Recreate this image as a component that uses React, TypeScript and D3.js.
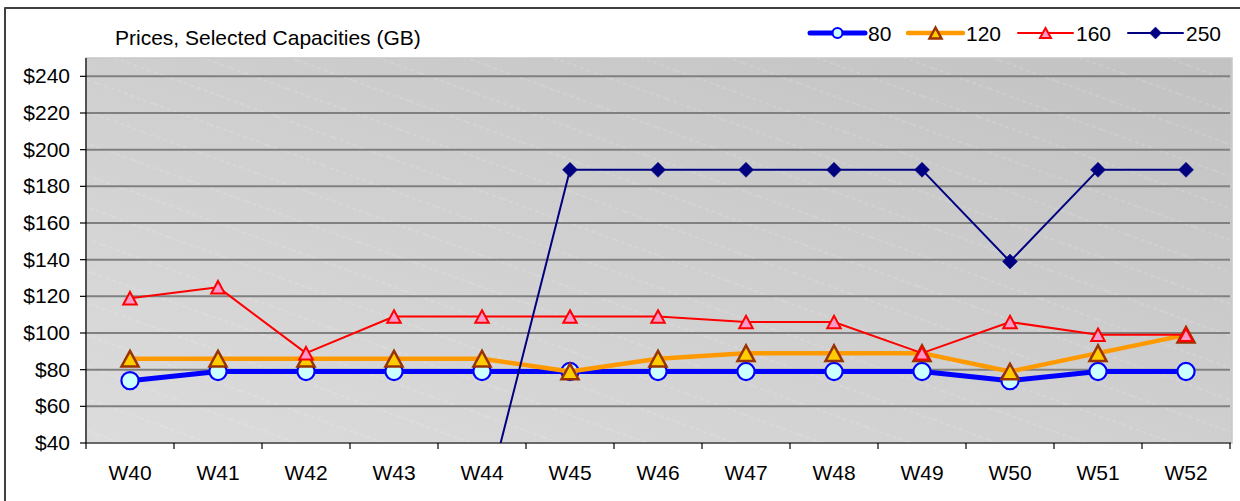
import React from 'react';
import * as d3 from 'd3';

// weekly prices for selected capacities (GB)
const weeks = ['W40', 'W41', 'W42', 'W43', 'W44', 'W45', 'W46', 'W47', 'W48', 'W49', 'W50', 'W51', 'W52'];
const price80 = [74, 79, 79, 79, 79, 79, 79, 79, 79, 79, 74, 79, 79];
const price120 = [86, 86, 86, 86, 86, 79, 86, 89, 89, 89, 79, 89, 99];
const price160 = [119, 125, 89, 109, 109, 109, 109, 106, 106, 89, 106, 99, 99];
const price250 = [0, 0, 0, 0, 0, 189, 189, 189, 189, 189, 139, 189, 189];
const yTicks = [40, 60, 80, 100, 120, 140, 160, 180, 200, 220, 240];
const capacities = ['80', '120', '160', '250'];

const W = 1240, H = 501;
const left = 86, right = 1230, top = 58, bottom = 443;
const font = '"Liberation Sans", Arial, sans-serif';

// triangle centred on its bounding box, like Excel markers
function tri(w: number, h: number) {
  return `M0,${-h / 2}L${w / 2},${h / 2}L${-w / 2},${h / 2}Z`;
}
function diamond(r: number) {
  return `M0,${-r}L${r},0L0,${r}L${-r},0Z`;
}

type Style = {
  color: string; width: number; marker: string; fill: string; mstroke: string; mw: number;
  legendMarker: string;
};

const styles: Style[] = [
  { color: '#0000FF', width: 5, marker: 'circle', fill: '#CCFFFF', mstroke: '#0000FF', mw: 2.2, legendMarker: 'circle' },
  { color: '#FF9900', width: 4.5, marker: tri(17, 15.5), fill: '#FFCC00', mstroke: '#993300', mw: 2.5, legendMarker: tri(12, 11) },
  { color: '#FF0000', width: 2, marker: tri(13.5, 12.5), fill: '#FF99CC', mstroke: '#FF0000', mw: 2, legendMarker: tri(11, 10) },
  { color: '#000080', width: 2, marker: diamond(7.5), fill: '#000080', mstroke: '#000080', mw: 0.5, legendMarker: diamond(6) },
];

export default function App() {
  const x = d3.scaleBand<string>().domain(weeks).range([left, right]).paddingInner(0).paddingOuter(0);
  const y = d3.scaleLinear().domain([40, 250]).range([bottom, top]);
  const cx = (w: string) => (x(w) as number) + x.bandwidth() / 2;

  const series = [price80, price120, price160, price250];
  const line = d3.line<number>().x((_, i) => cx(weeks[i])).y(d => y(d));

  const marker = (st: Style, legend: boolean, key: string, px: number, py: number) => {
    const shape = legend ? st.legendMarker : st.marker;
    if (shape === 'circle') {
      return <circle key={key} cx={px} cy={py} r={legend ? 5 : 8.6} fill={st.fill} stroke={st.mstroke} strokeWidth={st.mw} />;
    }
    return <path key={key} d={shape} transform={`translate(${px},${py})`} fill={st.fill} stroke={st.mstroke} strokeWidth={st.mw} strokeLinejoin="miter" />;
  };

  const legendX = [810, 908, 1018, 1128];

  return (
    <svg width={W} height={H} style={{ position: 'absolute', left: 0, top: 0 }} fontFamily={font}>
      <defs>
        <linearGradient id="bg" x1="0" y1="1" x2="1" y2="0">
          <stop offset="0" stopColor="#DCDCDC" />
          <stop offset="1" stopColor="#C2C2C2" />
        </linearGradient>
        <pattern id="hatch" patternUnits="userSpaceOnUse" width="60" height="30" patternTransform="rotate(20)">
          <line x1="0" y1="15" x2="60" y2="15" stroke="#FFFFFF" strokeOpacity="0.4" strokeWidth="0.6" strokeDasharray="4 3" />
        </pattern>
        <clipPath id="plotClip">
          <rect x={left} y={top} width={right - left} height={bottom - top} />
        </clipPath>
      </defs>
      <rect x={0} y={0} width={W} height={H} fill="#FFFFFF" />
      {/* chart area border, runs off the right and bottom */}
      <rect x={5} y={8} width={W + 20} height={H + 20} fill="none" stroke="#000000" strokeWidth={1.5} />
      <line x1={5} y1={8} x2={5} y2={H} stroke="#404040" strokeWidth={2} />

      {/* plot area */}
      <rect x={left} y={top} width={right - left + 2} height={bottom - top} fill="url(#bg)" stroke="#C8C8C8" strokeWidth={1.5} />
      <rect x={left} y={top} width={right - left} height={bottom - top} fill="url(#hatch)" />

      {yTicks.filter(t => t > 40).map(t => (
        <line key={'g' + t} x1={left} x2={right} y1={y(t)} y2={y(t)} stroke="#808080" strokeWidth={2} />
      ))}

      {/* axes */}
      <line x1={left} x2={left} y1={top} y2={bottom} stroke="#000000" strokeWidth={1.2} />
      <line x1={left} x2={right + 1} y1={bottom} y2={bottom} stroke="#000000" strokeWidth={1.2} />
      {yTicks.map(t => (
        <g key={'yt' + t}>
          <line x1={left - 6} x2={left} y1={y(t)} y2={y(t)} stroke="#000000" strokeWidth={1.2} />
          <text x={70} y={y(t) + 7} textAnchor="end" fontSize={21} fill="#000000">{'$' + t}</text>
        </g>
      ))}
      {weeks.map(w => (
        <line key={'xt' + w} x1={x(w) as number} x2={x(w) as number} y1={bottom} y2={bottom + 6} stroke="#000000" strokeWidth={1.2} />
      ))}
      <line x1={right} x2={right} y1={bottom} y2={bottom + 6} stroke="#000000" strokeWidth={1.2} />
      {weeks.map(w => (
        <text key={'xl' + w} x={cx(w)} y={480} textAnchor="middle" fontSize={21} fill="#000000">{w}</text>
      ))}

      {/* series */}
      <g clipPath="url(#plotClip)">
        {series.map((s, si) => (
          <g key={'s' + si}>
            <path d={line(s) as string} fill="none" stroke={styles[si].color} strokeWidth={styles[si].width} strokeLinejoin="round" />
            {s.map((v, i) => marker(styles[si], false, `m${si}-${i}`, cx(weeks[i]), y(v)))}
          </g>
        ))}
      </g>

      {/* title */}
      <text x={115} y={45} fontSize={21} fill="#000000">Prices, Selected Capacities (GB)</text>

      {/* legend */}
      {capacities.map((c, i) => (
        <g key={'l' + c}>
          <line x1={legendX[i]} x2={legendX[i] + 55} y1={33} y2={33} stroke={styles[i].color} strokeWidth={styles[i].width} strokeLinecap="round" />
          {marker(styles[i], true, 'lm' + c, legendX[i] + 27.5, 33)}
          <text x={legendX[i] + 58} y={41} fontSize={21} fill="#000000">{c}</text>
        </g>
      ))}
    </svg>
  );
}
